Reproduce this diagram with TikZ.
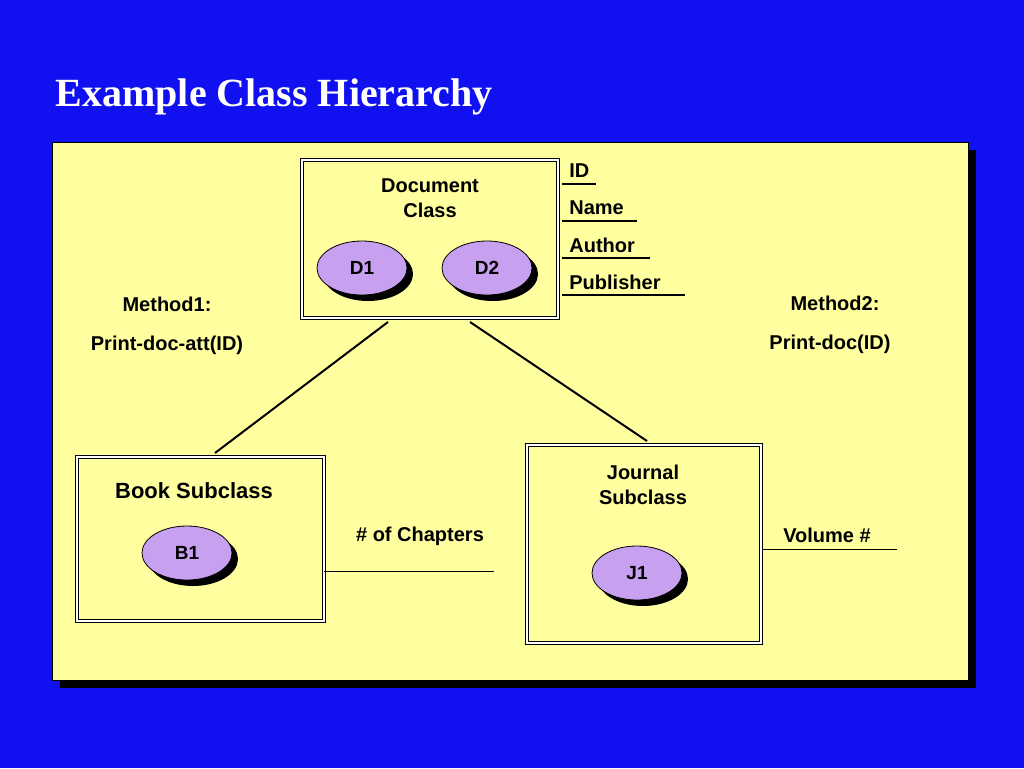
\documentclass[tikz,border=0pt]{standalone}
\usepackage{fontspec}
\setmainfont{Liberation Serif}
\setsansfont{Liberation Sans}
\usetikzlibrary{positioning,shapes.geometric}
\definecolor{slideblue}{RGB}{16,16,240}
\definecolor{paleyellow}{RGB}{255,255,160}
\definecolor{lilac}{RGB}{200,160,240}
\tikzset{
  cls/.style={draw, double, double distance=2pt, line width=1pt, fill=paleyellow},
  obj/.style={ellipse, draw, thick, fill=lilac, minimum width=90pt, minimum height=54pt,
    font=\sffamily\bfseries\fontsize{19}{21}\selectfont, inner sep=0pt},
  shadow/.style={ellipse, fill=black, minimum width=90pt, minimum height=54pt},
  lbl/.style={font=\sffamily\bfseries\fontsize{20}{24}\selectfont, inner sep=0pt},
  uline/.style={line width=1.5pt}
}
\begin{document}
\begin{tikzpicture}[x=1pt, y=-1pt, thick]
\fill[slideblue] (0,0) rectangle (1024,768);
\node[font=\rmfamily\bfseries\fontsize{40}{44}\selectfont, text=white, anchor=west] (title) at (52,97) {Example Class Hierarchy};
% panel
\fill[black] (60,150) rectangle (976,688);
\filldraw[fill=paleyellow, draw=black, thin] (52,142) rectangle (968,680);
% classes
\draw[cls] (302,160) rectangle (558,318);
\draw[cls] (77,457) rectangle (324,621);
\draw[cls] (527,445) rectangle (761,643);
\node[lbl, align=center] (doc) at (430,198) {Document\\[1pt]Class};
\node[lbl, font=\sffamily\bfseries\fontsize{22}{24}\selectfont] (book) at (194,491) {Book Subclass};
\node[lbl, align=center] (jour) at (643,485) {Journal\\[1pt]Subclass};
% objects
\foreach \n/\x/\y in {D1/362/268, D2/487/268, B1/187/553, J1/637/573} {
  \node[shadow] at (\x+6,\y+6) {};
  \node[obj] (\n) at (\x,\y) {\n};
}
% hierarchy
\coordinate (docB) at (388,322);
\coordinate (docJ) at (470,322);
\coordinate (bookT) at (215,453);
\coordinate (jourT) at (647,441);
\draw[line width=2pt] (docB) -- (bookT);
\draw[line width=2pt] (docJ) -- (jourT);
% attributes
\foreach \t/\y/\e in {ID/171/596, Name/208/637, Author/245/650, Publisher/282/685} {
  \node[lbl, anchor=west] (a\t) at (569,\y) {\t};
  \coordinate (s\t) at (562,\y+13);
  \coordinate (e\t) at (\e,\y+13);
  \draw[uline] (s\t) -- (e\t);
}
\node[lbl] (m1) at (167,304) {Method1:};
\node[lbl] (p1) at (167,345) {Print-doc-att(ID)};
\node[lbl] (m2) at (835,303) {Method2:};
\node[lbl] (p2) at (830,344) {Print-doc(ID)};
\node[lbl] (chap) at (420,536) {\# of Chapters};
\coordinate (cs) at (324,571); \coordinate (ce) at (494,571);
\draw[thin] (cs) -- (ce);
\node[lbl] (vol) at (827,535) {Volume \#};
\coordinate (vs) at (763,549); \coordinate (ve) at (897,549);
\draw[thin] (vs) -- (ve);
\end{tikzpicture}
\end{document}
